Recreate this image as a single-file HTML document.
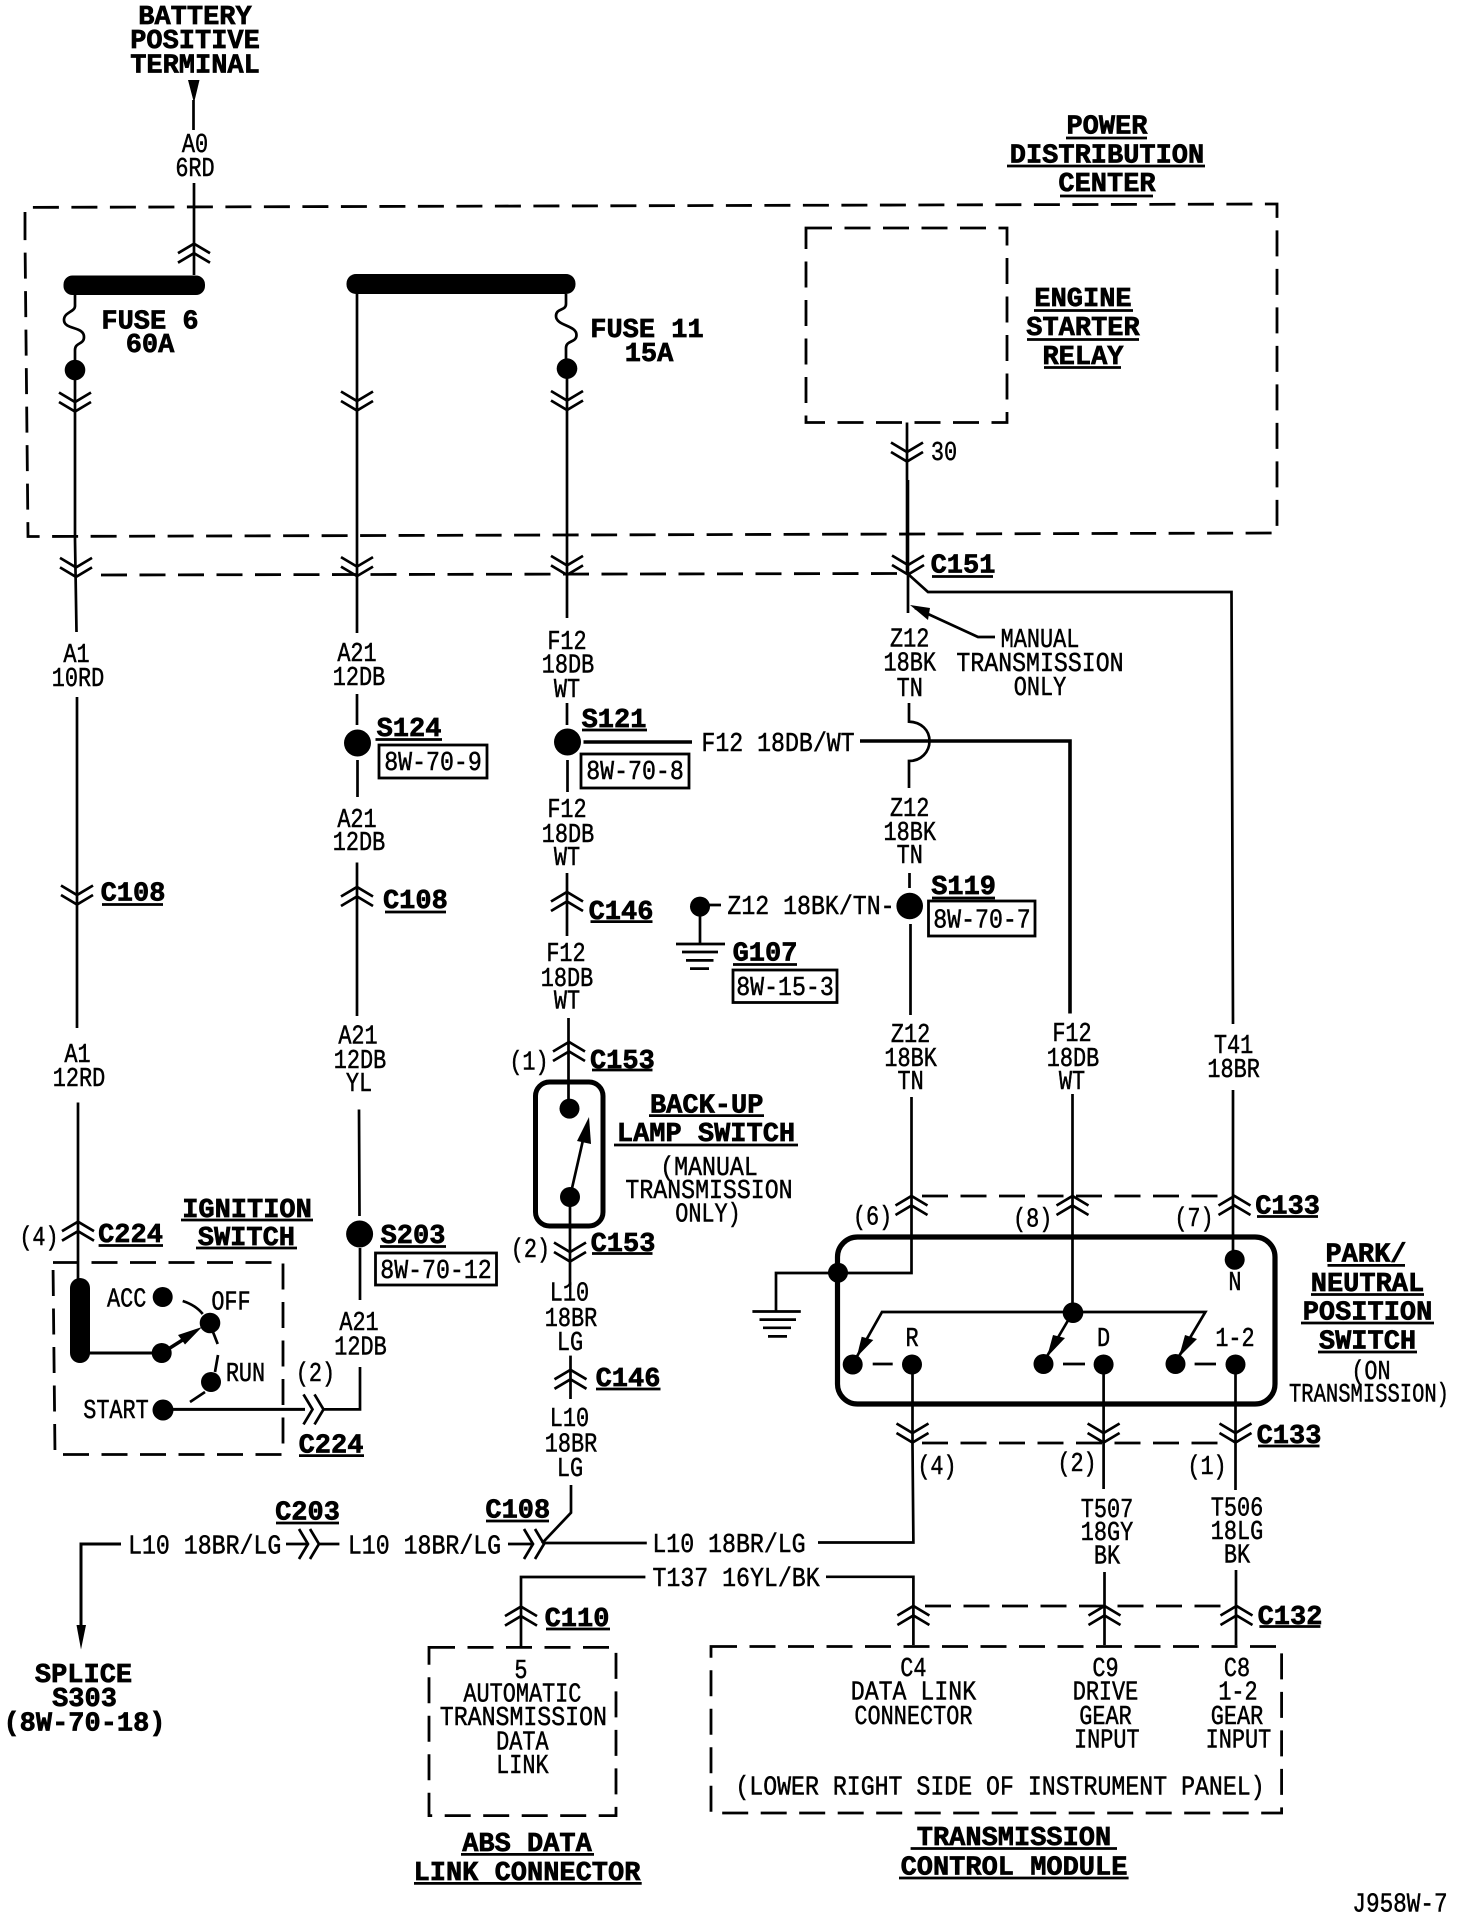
<!DOCTYPE html>
<html lang="en"><head><meta charset="utf-8"><title>Wiring diagram</title>
<style>
html,body{margin:0;padding:0;background:#fff}
svg{display:block}
.l{fill:none;stroke:#000;stroke-width:2.7}
.t{fill:none;stroke:#000;stroke-width:3.6}
.d{fill:none;stroke:#000;stroke-width:2.8;stroke-dasharray:26 12.5}
.u{fill:none;stroke:#000;stroke-width:2.8}
text{text-anchor:middle;fill:#000;font-family:"Liberation Mono",monospace}
.n,.w{font-size:27px;stroke:#000;stroke-width:.5;transform-box:fill-box;transform-origin:center}
.n{transform:scaleX(.81)}
.w{transform:scaleX(.86)}
.b{font-size:27px;font-weight:bold;stroke:#000;stroke-width:.7}
</style></head><body>
<svg width="1472" height="1918" viewBox="0 0 1472 1918" xmlns="http://www.w3.org/2000/svg">
<defs>
<path id="cu" class="l" d="M-16 9.5L0 0L16 9.5M-16 19L0 9.5L16 19"/>
<path id="cd" class="l" d="M-16 -9.5L0 0L16 -9.5M-16 0L0 9.5L16 0"/>
<path id="cr" class="l" d="M-9 -15L0 0L-9 15M2 -15L11 0L2 15"/>
</defs>

<!-- dashed boxes -->
<path class="d" d="M25 238V207.4L1277 204V533L28 536.5L25 238"/>
<path class="d" d="M806 228H1007V422.5H806Z"/>
<path class="d" d="M101 575L898 573.5"/>
<path class="d" d="M53 1262.5H283V1454.5H55Z"/>
<path class="d" d="M429 1647.4H616V1815.6H429Z"/>
<path class="d" d="M711 1646.5H1281.6V1813H711Z"/>
<path class="d" d="M922 1196H1222"/>
<path class="d" d="M922 1443H1222"/>
<path class="d" d="M925 1606H1222"/>

<!-- top battery -->
<path d="M188 80H199.5L194 103Z"/>
<path class="l" d="M193.5 100V130M194 183V275"/>
<use href="#cu" x="194" y="243.7"/>
<rect x="63.5" y="275.5" width="141.5" height="19.5" rx="9"/>
<rect x="346.5" y="274" width="229" height="20" rx="9.5"/>
<!-- fuses -->
<path class="l" d="M75 295V306C75 312 64 312 64 320C64 330 84 326 84 337C84 345 75 342 75 350V370"/>
<path class="l" d="M566 294V304C566 311 556 308 556 316C556 326 576.5 325 576.5 335C576.5 343 566 340 566 348V368"/>
<circle cx="75" cy="370" r="10.3"/><circle cx="567" cy="368.6" r="10.3"/>
<path class="l" d="M75 370V540L76.5 632"/>
<use href="#cd" x="75" y="402"/><use href="#cd" x="76" y="567.4"/>
<path class="l" d="M357 294V633"/>
<use href="#cd" x="357" y="401"/><use href="#cd" x="357" y="566.6"/>
<path class="l" d="M567 368V618"/>
<use href="#cd" x="567" y="400.5"/><use href="#cd" x="567" y="565.4"/>
<!-- relay wire -->
<path class="l" d="M907 422.5V480"/><path class="t" d="M907.5 480V574"/>
<use href="#cd" x="907" y="452"/><use href="#cd" x="908" y="565"/>
<path class="l" d="M908 574V613M908 574L928 592H1231.5L1233 1024M1233 1090V1260"/>
<path class="l" d="M915 608L978 637H995"/><path d="M910 605L930 608L928 620Z"/>

<!-- wire 1 lower -->
<path class="l" d="M77 697V1028M78 1102.5V1280"/>
<use href="#cd" x="77" y="895"/><use href="#cu" x="78" y="1221.7"/>
<!-- wire 2 lower -->
<path class="l" d="M357 694V725M357.5 760V797M357 862.5V1016M359 1109.5L359.5 1216M360 1248V1300"/>
<circle cx="357.5" cy="743" r="13.5"/><circle cx="359.6" cy="1234" r="13.5"/>
<use href="#cu" x="357" y="887"/>
<!-- wire 3 lower -->
<path class="l" d="M567 703V725M567.5 760V792M567 873V936M568.5 1018V1108"/>
<circle cx="567.5" cy="742" r="13.5"/>
<use href="#cu" x="567" y="892"/><use href="#cu" x="569" y="1042"/>
<path class="t" d="M583.5 742H692"/>
<path class="t" d="M860 741H1070V1013.5"/>
<!-- backup switch -->
<rect x="535.5" y="1082" width="67.5" height="144" rx="14" fill="none" stroke="#000" stroke-width="5"/>
<circle cx="569.5" cy="1108.6" r="10"/><circle cx="570" cy="1197" r="10"/>
<path class="l" d="M570 1197L583 1140"/><path d="M589 1117L591 1144L577 1141Z"/>
<path class="l" d="M570 1197V1285"/>
<use href="#cd" x="570" y="1252"/>
<!-- Z12 wire -->
<path class="l" d="M909 703V721.6C921 722 929.5 730 929.5 741C929.5 752 921 761 909 761V788M909.5 873V888M910.5 924V1015M911.5 1097V1273H776V1311"/>
<circle cx="909.7" cy="906" r="13.3"/>
<use href="#cu" x="911.5" y="1196"/>
<!-- G107 -->
<circle cx="700" cy="906.6" r="10"/>
<path class="l" d="M709 905H721M700 906V944"/>
<path class="l" d="M676 944H725M682 952H718M686 960.4H713.5M690 968.6H709"/>
<path class="l" d="M752.4 1311.5H800.8M759.5 1319.6H796M763 1327.8H791M768 1336.4H787"/>
<!-- park switch -->
<rect x="837.5" y="1237" width="437.5" height="167" rx="20" fill="none" stroke="#000" stroke-width="5.2"/>
<circle cx="838" cy="1272.7" r="10"/>
<path class="l" d="M1072.5 1094V1312"/>
<use href="#cu" x="1072.5" y="1196"/><use href="#cu" x="1234.5" y="1196"/>
<circle cx="1234.7" cy="1259.7" r="10"/>
<path class="l" d="M852.7 1364L882 1312H1205.4L1175 1363M1073 1312L1043 1363"/>
<circle cx="1073" cy="1312.7" r="10.3"/>
<circle cx="852.7" cy="1364.5" r="10"/><circle cx="1043.5" cy="1364" r="10"/><circle cx="1175.5" cy="1364" r="10"/>
<circle cx="912" cy="1364.5" r="10"/><circle cx="1103.6" cy="1364.5" r="10"/><circle cx="1235.5" cy="1364.5" r="10"/>
<path d="M861.7 1336.7L873.3 1340L856.7 1357Z"/><path d="M1053 1335L1065 1338L1047 1357Z"/><path d="M1185 1335L1197 1339L1179 1357Z"/>
<path class="l" d="M872.7 1364H892.7M1063 1364H1085M1194.6 1364H1216"/>
<path class="l" d="M912.5 1364V1446L913.4 1542.5H818M1103.6 1364V1489M1235.5 1364V1490"/>
<use href="#cd" x="912.5" y="1433"/><use href="#cd" x="1103.6" y="1433"/><use href="#cd" x="1235.5" y="1433"/>
<!-- T wires bottom -->
<path class="l" d="M826 1576.8H913.4V1645M1104.5 1572V1645M1236 1570V1645"/>
<use href="#cu" x="913.4" y="1606"/><use href="#cu" x="1104.5" y="1606"/><use href="#cu" x="1236.5" y="1606"/>
<path class="l" d="M645.4 1577H521V1647"/>
<use href="#cu" x="521" y="1606.6"/>
<!-- L10 -->
<path class="l" d="M570.5 1355.6V1399"/><use href="#cu" x="570.5" y="1369.8"/>
<path class="l" d="M571 1485V1512.7L542 1543.3"/>
<path class="l" d="M508 1544H533"/><use href="#cr" x="533" y="1544"/>
<path class="l" d="M543.6 1543H646.8"/>
<path class="l" d="M286 1544H308"/><use href="#cr" x="308" y="1544"/>
<path class="l" d="M319 1544H339.4"/>
<path class="t" d="M121 1544H81V1627" style="stroke-width:3"/>
<path d="M76.5 1625H86L81 1649.5Z"/>
<!-- ignition -->
<rect x="70" y="1278" width="20" height="85" rx="10"/>
<path class="t" d="M89 1353H162" style="stroke-width:3"/>
<circle cx="162.7" cy="1297" r="10"/><circle cx="161.7" cy="1353" r="10"/><circle cx="210" cy="1323" r="10.3"/>
<circle cx="211" cy="1382" r="10"/><circle cx="163" cy="1410" r="10.5"/>
<path class="t" d="M162 1353L192 1334"/>
<path d="M202 1327L178 1335L185 1344.5Z"/>
<path class="l" d="M182.7 1301C192 1304 198 1308 202.7 1314M213 1332L217.7 1344M218 1355L215 1372M205 1392L190 1402"/>
<path class="t" d="M163 1409.4H305" style="stroke-width:3"/>
<use href="#cr" x="312.5" y="1409.4"/>
<path class="l" d="M323 1409.4H360V1367"/>

<!-- boxes for refs -->
<g fill="none" stroke="#000" stroke-width="2.8">
<rect x="379" y="745" width="108" height="33"/>
<rect x="581" y="754" width="108" height="34"/>
<rect x="375.5" y="1253" width="121" height="32"/>
<rect x="928.5" y="901" width="106.5" height="35"/>
<rect x="733" y="970" width="104" height="32.5"/>
</g>
<text class="w" x="433" y="770">8W-70-9</text>
<text class="w" x="635" y="779">8W-70-8</text>
<text class="w" x="436" y="1278">8W-70-12</text>
<text class="w" x="982" y="927.5">8W-70-7</text>
<text class="w" x="785" y="995">8W-15-3</text>

<!-- bold labels -->
<text class="b" x="195" y="24">BATTERY</text>
<text class="b" x="195" y="48">POSITIVE</text>
<text class="b" x="195" y="72.7">TERMINAL</text>
<text class="b" x="150" y="328.6">FUSE 6</text>
<text class="b" x="150" y="352">60A</text>
<text class="b" x="647" y="336.8">FUSE 11</text>
<text class="b" x="649" y="361">15A</text>
<text class="b" x="1107" y="133.5">POWER</text>
<text class="b" x="1107" y="162.5">DISTRIBUTION</text>
<text class="b" x="1107" y="191">CENTER</text>
<text class="b" x="1083" y="306">ENGINE</text>
<text class="b" x="1083" y="335">STARTER</text>
<text class="b" x="1083" y="364">RELAY</text>
<text class="b" x="963" y="572.7">C151</text>
<text class="b" x="133" y="900.4">C108</text>
<text class="b" x="415.4" y="908">C108</text>
<text class="b" x="409" y="736">S124</text>
<text class="b" x="614" y="727">S121</text>
<text class="b" x="621" y="919">C146</text>
<text class="b" x="622.4" y="1067.8">C153</text>
<text class="b" x="623" y="1251">C153</text>
<text class="b" x="130.5" y="1242">C224</text>
<text class="b" x="247" y="1216.8">IGNITION</text>
<text class="b" x="246.4" y="1245">SWITCH</text>
<text class="b" x="413" y="1243">S203</text>
<text class="b" x="706.7" y="1112.7">BACK-UP</text>
<text class="b" x="706" y="1141">LAMP SWITCH</text>
<text class="b" x="963.6" y="894">S119</text>
<text class="b" x="765" y="960.4">G107</text>
<text class="b" x="1287.6" y="1213.5">C133</text>
<text class="b" x="1366" y="1261.5">PARK/</text>
<text class="b" x="1367.5" y="1291">NEUTRAL</text>
<text class="b" x="1367.5" y="1319.5">POSITION</text>
<text class="b" x="1367.5" y="1348.5">SWITCH</text>
<text class="b" x="1289" y="1443">C133</text>
<text class="b" x="1290" y="1624">C132</text>
<text class="b" x="1014" y="1845">TRANSMISSION</text>
<text class="b" x="1014" y="1874.5">CONTROL MODULE</text>
<text class="b" x="331" y="1452.7">C224</text>
<text class="b" x="307.5" y="1519.7">C203</text>
<text class="b" x="517.8" y="1517.6">C108</text>
<text class="b" x="577" y="1625.8">C110</text>
<text class="b" x="628" y="1386">C146</text>
<text class="b" x="527" y="1851">ABS DATA</text>
<text class="b" x="527" y="1880">LINK CONNECTOR</text>
<text class="b" x="83.5" y="1682">SPLICE</text>
<text class="b" x="84.5" y="1706">S303</text>
<text class="b" x="84.5" y="1730.3">(8W-70-18)</text>

<!-- underlines -->
<path class="u" d="M1066 138H1147M1007 166H1205M1060 196H1153M1034 310.5H1133M1027 339.5H1139M1044 367.5H1121M932 576.5H993M102 904.5H163M385 912H446M375.5 739.5H442M582 730H647M590.5 921.6H652.5M592 1070H652.5M592 1253.5H652.5M98.6 1245.5H163M181 1220H313M196 1248H297M380 1246.5H446M649 1115.6H764M614 1145H798M932 898H995M733 964.5H797M1257 1216.5H1318M1327.5 1265.4H1405M1311 1294.5H1424M1301 1323H1434M1318 1352H1417M1258 1446H1319.5M1259.4 1626.5H1320.4M910.6 1848.5H1117M899 1878H1128.6M299 1455.6H364M276 1523H339M486 1521H549M546 1629H610M596 1389H660.5M461 1854.4H594M414 1883.4H641.7"/>

<!-- regular labels -->
<text class="n" x="195" y="152">A0</text>
<text class="n" x="195" y="176">6RD</text>
<text class="n" x="944" y="460">30</text>
<text class="n" x="76.5" y="662">A1</text>
<text class="n" x="78" y="686">10RD</text>
<text class="n" x="77.5" y="1062">A1</text>
<text class="n" x="79" y="1086">12RD</text>
<text class="n" x="39" y="1245">(4)</text>
<text class="n" x="357" y="661">A21</text>
<text class="n" x="359" y="685">12DB</text>
<text class="n" x="357" y="827">A21</text>
<text class="n" x="359" y="850">12DB</text>
<text class="n" x="358" y="1043.5">A21</text>
<text class="n" x="360" y="1068">12DB</text>
<text class="n" x="359" y="1091">YL</text>
<text class="n" x="359" y="1330">A21</text>
<text class="n" x="360.5" y="1354.7">12DB</text>
<text class="n" x="315.4" y="1381">(2)</text>
<text class="n" x="567" y="649">F12</text>
<text class="n" x="568" y="672.7">18DB</text>
<text class="n" x="567" y="697">WT</text>
<text class="n" x="567" y="817">F12</text>
<text class="n" x="568" y="842">18DB</text>
<text class="n" x="567" y="865">WT</text>
<text class="n" x="566" y="961">F12</text>
<text class="n" x="567" y="986">18DB</text>
<text class="n" x="567" y="1008.6">WT</text>
<text class="n" x="529" y="1069.4">(1)</text>
<text class="n" x="530.4" y="1257">(2)</text>
<text class="n" x="569.4" y="1300.5">L10</text>
<text class="n" x="571" y="1325.8">18BR</text>
<text class="n" x="570" y="1350">LG</text>
<text class="n" x="569.4" y="1426">L10</text>
<text class="n" x="571" y="1451.5">18BR</text>
<text class="n" x="570" y="1476">LG</text>
<text class="w" x="778" y="751">F12 18DB/WT</text>
<text class="n" x="909.7" y="646.5">Z12</text>
<text class="n" x="909.7" y="670.6">18BK</text>
<text class="n" x="909.7" y="696">TN</text>
<text class="n" x="909.7" y="816">Z12</text>
<text class="n" x="909.7" y="840">18BK</text>
<text class="n" x="909.7" y="863">TN</text>
<text class="n" x="910.6" y="1042">Z12</text>
<text class="n" x="910.6" y="1066">18BK</text>
<text class="n" x="910.6" y="1089">TN</text>
<text class="n" x="1040" y="647">MANUAL</text>
<text class="w" x="1040" y="671">TRANSMISSION</text>
<text class="n" x="1040" y="695">ONLY</text>
<text class="w" x="811" y="914">Z12 18BK/TN-</text>
<text class="n" x="1072" y="1041">F12</text>
<text class="n" x="1073" y="1066">18DB</text>
<text class="n" x="1072" y="1089">WT</text>
<text class="n" x="1233.6" y="1053">T41</text>
<text class="n" x="1233.6" y="1077">18BR</text>
<text class="n" x="872.6" y="1224.6">(6)</text>
<text class="n" x="1032.7" y="1226.6">(8)</text>
<text class="n" x="1194" y="1225.8">(7)</text>
<text class="w" x="709" y="1174.8">(MANUAL</text>
<text class="w" x="709" y="1198">TRANSMISSION</text>
<text class="n" x="708" y="1221.7">ONLY)</text>
<text class="n" x="1235" y="1290">N</text>
<text class="n" x="912" y="1346">R</text>
<text class="n" x="1103.6" y="1346">D</text>
<text class="n" x="1235" y="1346">1-2</text>
<text class="n" x="1371" y="1379">(ON</text>
<text class="n" style="transform:scaleX(.76)" x="1369" y="1401.7">TRANSMISSION)</text>
<text class="n" x="937" y="1474">(4)</text>
<text class="n" x="1077" y="1471">(2)</text>
<text class="n" x="1207" y="1474">(1)</text>
<text class="n" x="1107" y="1516.8">T507</text>
<text class="n" x="1107" y="1540">18GY</text>
<text class="n" x="1107" y="1563.7">BK</text>
<text class="n" x="1237" y="1515.6">T506</text>
<text class="n" x="1237" y="1539">18LG</text>
<text class="n" x="1237" y="1562.5">BK</text>
<text class="n" x="913.4" y="1676">C4</text>
<text class="w" x="913.4" y="1699.7">DATA LINK</text>
<text class="n" x="913.4" y="1724">CONNECTOR</text>
<text class="n" x="1105.5" y="1676">C9</text>
<text class="n" x="1105.5" y="1699.7">DRIVE</text>
<text class="n" x="1105.5" y="1723.8">GEAR</text>
<text class="n" x="1106.8" y="1747.4">INPUT</text>
<text class="n" x="1237" y="1676">C8</text>
<text class="n" x="1238" y="1699.7">1-2</text>
<text class="n" x="1237" y="1723.8">GEAR</text>
<text class="n" x="1238.4" y="1747.4">INPUT</text>
<text class="w" style="transform:scaleX(.86)" x="1000" y="1794.4">(LOWER RIGHT SIDE OF INSTRUMENT PANEL)</text>
<text class="w" style="transform:scaleX(.84)" x="1400" y="1911.5">J958W-7</text>
<text class="n" x="126.7" y="1306.6">ACC</text>
<text class="n" x="231" y="1309.4">OFF</text>
<text class="n" x="245.5" y="1381">RUN</text>
<text class="n" x="116" y="1418">START</text>
<text class="w" x="204.7" y="1553.5">L10 18BR/LG</text>
<text class="w" x="424.5" y="1553.5">L10 18BR/LG</text>
<text class="w" x="729" y="1552">L10 18BR/LG</text>
<text class="w" x="736" y="1586">T137 16YL/BK</text>
<text class="n" x="521" y="1678">5</text>
<text class="n" x="522.4" y="1701.7">AUTOMATIC</text>
<text class="w" x="523.4" y="1725">TRANSMISSION</text>
<text class="n" x="522.4" y="1749.5">DATA</text>
<text class="n" x="522.4" y="1773">LINK</text>
</svg>
</body></html>
